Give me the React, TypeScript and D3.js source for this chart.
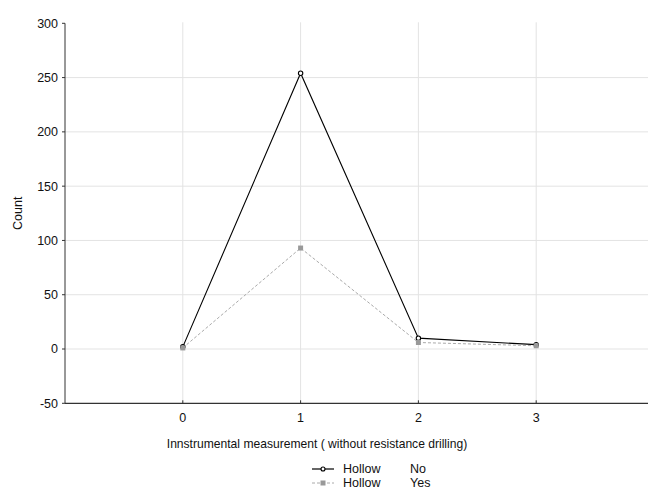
import React from "react";
import * as d3 from "d3";

const categories = [0, 1, 2, 3];
const seriesNo = [2, 254, 10, 4];
const seriesYes = [1, 93, 6, 3];
const yTicks = [-50, 0, 50, 100, 150, 200, 250, 300];
const legendLabels = [
  ["Hollow", "No"],
  ["Hollow", "Yes"],
];

export default function App() {
  const W = 648, H = 491;
  const x = d3.scaleLinear().domain([-1, 4]).range([65, 654]);
  const y = d3.scaleLinear().domain([-50, 300]).range([403.3, 23.3]);
  const line = d3
    .line<number>()
    .x((_, i) => x(categories[i]))
    .y((d) => y(d));
  const font = "'Liberation Sans', Arial, sans-serif";
  return (
    <svg
      width={W}
      height={H}
      style={{ position: "absolute", left: 0, top: 0, background: "#fff" }}
      fontFamily={font}
    >
      {yTicks
        .filter((t) => t > -50 && t < 300)
        .map((t) => (
          <line key={"h" + t} x1={x(-1)} x2={W} y1={y(t)} y2={y(t)} stroke="#e3e3e3" strokeWidth={1} />
        ))}
      {categories.map((c) => (
        <line key={"v" + c} x1={x(c)} x2={x(c)} y1={y(300) - 1} y2={y(-50)} stroke="#e3e3e3" strokeWidth={1} />
      ))}
      <line x1={x(-1)} x2={x(-1)} y1={y(300)} y2={y(-50)} stroke="#333" strokeWidth={1} />
      <line x1={x(-1)} x2={W} y1={y(-50)} y2={y(-50)} stroke="#333" strokeWidth={1.3} />
      {yTicks.map((t) => (
        <g key={"yt" + t}>
          <line x1={x(-1) - 3} x2={x(-1)} y1={y(t)} y2={y(t)} stroke="#333" />
          <text x={58} y={y(t)} dy="0.35em" textAnchor="end" fontSize={12.5} fill="#111">
            {t}
          </text>
        </g>
      ))}
      {categories.map((c) => (
        <g key={"xt" + c}>
          <line x1={x(c)} x2={x(c)} y1={y(-50) - 3} y2={y(-50)} stroke="#333" />
          <text x={x(c)} y={422} textAnchor="middle" fontSize={12.5} fill="#111">
            {c}
          </text>
        </g>
      ))}
      <text
        transform={`translate(22,${(y(300) + y(-50)) / 2}) rotate(-90)`}
        textAnchor="middle"
        fontSize={12.5}
        fill="#111"
      >
        Count
      </text>
      <text x={317} y={448} textAnchor="middle" fontSize={12.1} fill="#111">
        Innstrumental measurement ( without resistance drilling)
      </text>
      <path d={line(seriesNo) || ""} fill="none" stroke="#000" strokeWidth={1.1} />
      {seriesNo.map((v, i) => (
        <circle key={"n" + i} cx={x(categories[i])} cy={y(v)} r={2.2} fill="#fff" stroke="#000" strokeWidth={1.1} />
      ))}
      <path d={line(seriesYes) || ""} fill="none" stroke="#aaa" strokeWidth={1} strokeDasharray="3,2" />
      {seriesYes.map((v, i) => (
        <rect key={"y" + i} x={x(categories[i]) - 2.5} y={y(v) - 2.5} width={5} height={5} fill="#999" />
      ))}
      <g>
        <line x1={312} x2={334} y1={469} y2={469} stroke="#000" strokeWidth={1.2} />
        <circle cx={323} cy={469} r={2} fill="#fff" stroke="#000" strokeWidth={1.1} />
        <line x1={312} x2={334} y1={483} y2={483} stroke="#aaa" strokeWidth={1} strokeDasharray="3,2" />
        <rect x={320.5} y={480.5} width={5} height={5} fill="#999" />
        {legendLabels.map((l, i) => (
          <g key={"lg" + i}>
            <text x={343} y={469 + i * 14} dy="0.35em" fontSize={12.5} fill="#111">
              {l[0]}
            </text>
            <text x={410} y={469 + i * 14} dy="0.35em" fontSize={12.5} fill="#111">
              {l[1]}
            </text>
          </g>
        ))}
      </g>
    </svg>
  );
}
